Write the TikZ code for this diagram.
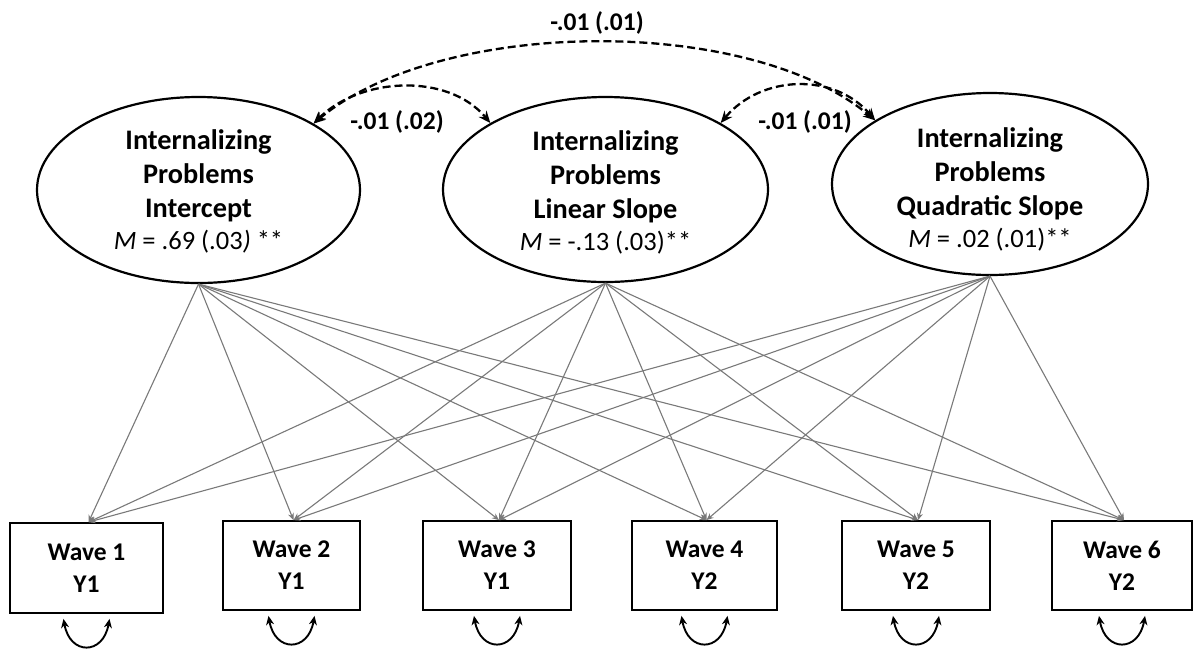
\documentclass[tikz,border=0pt]{standalone}
\usepackage{fontspec}
\setmainfont{Carlito}
\usetikzlibrary{arrows.meta,shapes.geometric}
\begin{document}
\begin{tikzpicture}[x=1pt,y=1pt,
  lat/.style={draw=black, line width=2.2pt, ellipse, inner sep=0pt},
  lattext/.style={align=center, inner sep=0pt, font=\fontsize{28.3}{34}\selectfont\bfseries},
  obs/.style={draw=black, line width=1.8pt, rectangle, inner sep=0pt, align=center,
     font=\fontsize{25.5}{32}\selectfont\bfseries},
  load/.style={draw=gray!95!black, line width=1.1pt, -{Stealth[length=7pt,width=6pt]}},
  cov/.style={draw=black, line width=2.3pt, dash pattern=on 8pt off 4pt,
     {Stealth[length=12pt,width=10pt]}-{Stealth[length=12pt,width=10pt]}},
  resid/.style={draw=black, line width=1.9pt,
     {Stealth[length=9pt,width=8pt]}-{Stealth[length=9pt,width=8pt]}},
  covlab/.style={inner sep=0pt, font=\fontsize{25.5}{30}\selectfont\bfseries}
]
\useasboundingbox (0,0) rectangle (1196,-649);

% latent factors
\node[lat, minimum width=323, minimum height=186] (e1) at (198.5,-190) {};
\node[lat, minimum width=325, minimum height=185] (e2) at (605.5,-189.5) {};
\node[lat, minimum width=316, minimum height=182] (e3) at (990,-184) {};

\node[lattext] (t1) at (198.5,-191) {Internalizing\\Problems\\Intercept\\[-2pt]{\mdseries\fontsize{26.5}{30}\selectfont\textit{M} = .69 (.03\textit{)} **}};
\node[lattext] (t2) at (605.5,-192) {Internalizing\\Problems\\Linear Slope\\[-2pt]{\mdseries\fontsize{26.5}{30}\selectfont\textit{M} = -.13 (.03)**}};
\node[lattext] (t3) at (990,-189) {Internalizing\\Problems\\Quadratic Slope\\[-2pt]{\mdseries\fontsize{26.5}{30}\selectfont\textit{M} = .02 (.01)**}};

% observed
\node[obs, minimum width=153, minimum height=90] (b1) at (86.5,-568) {Wave 1\\Y1};
\node[obs, minimum width=137, minimum height=89] (b2) at (291.5,-565.5) {Wave 2\\Y1};
\node[obs, minimum width=148, minimum height=89] (b3) at (497,-565.5) {Wave 3\\Y1};
\node[obs, minimum width=145, minimum height=89] (b4) at (704.5,-565.5) {Wave 4\\Y2};
\node[obs, minimum width=148, minimum height=89] (b5) at (916,-565.5) {Wave 5\\Y2};
\node[obs, minimum width=140, minimum height=89] (b6) at (1122,-565.5) {Wave 6\\Y2};

% loadings
\foreach \e in {e1,e2,e3}{
  \foreach \b in {b1,b2,b3,b4,b5,b6}{
    \draw[load] (\e.south) -- ([xshift=2pt]\b.north);
  }
}

% residual variances
\foreach \b in {b1,b2,b3,b4,b5,b6}{
  \draw[resid] ([xshift=-23pt,yshift=-5pt]\b.south) to[out=-80,in=-100,distance=37] ([xshift=23pt,yshift=-5pt]\b.south);
}

% covariances
\draw[cov] (e1.30.7) to[out=45,in=130,distance=66] (e2.150.1);
\draw[cov] (e2.30.1) to[out=50,in=130,distance=63] (e3.151.3);
\draw[cov] (e1.30.7) to[out=40,in=140,distance=165] (e3.151.3);

\node[covlab] (c13) at (597,-23) {-.01 (.01)};
\node[covlab] (c12) at (397,-122) {-.01 (.02)};
\node[covlab] (c23) at (805,-122) {-.01 (.01)};
\end{tikzpicture}
\end{document}
